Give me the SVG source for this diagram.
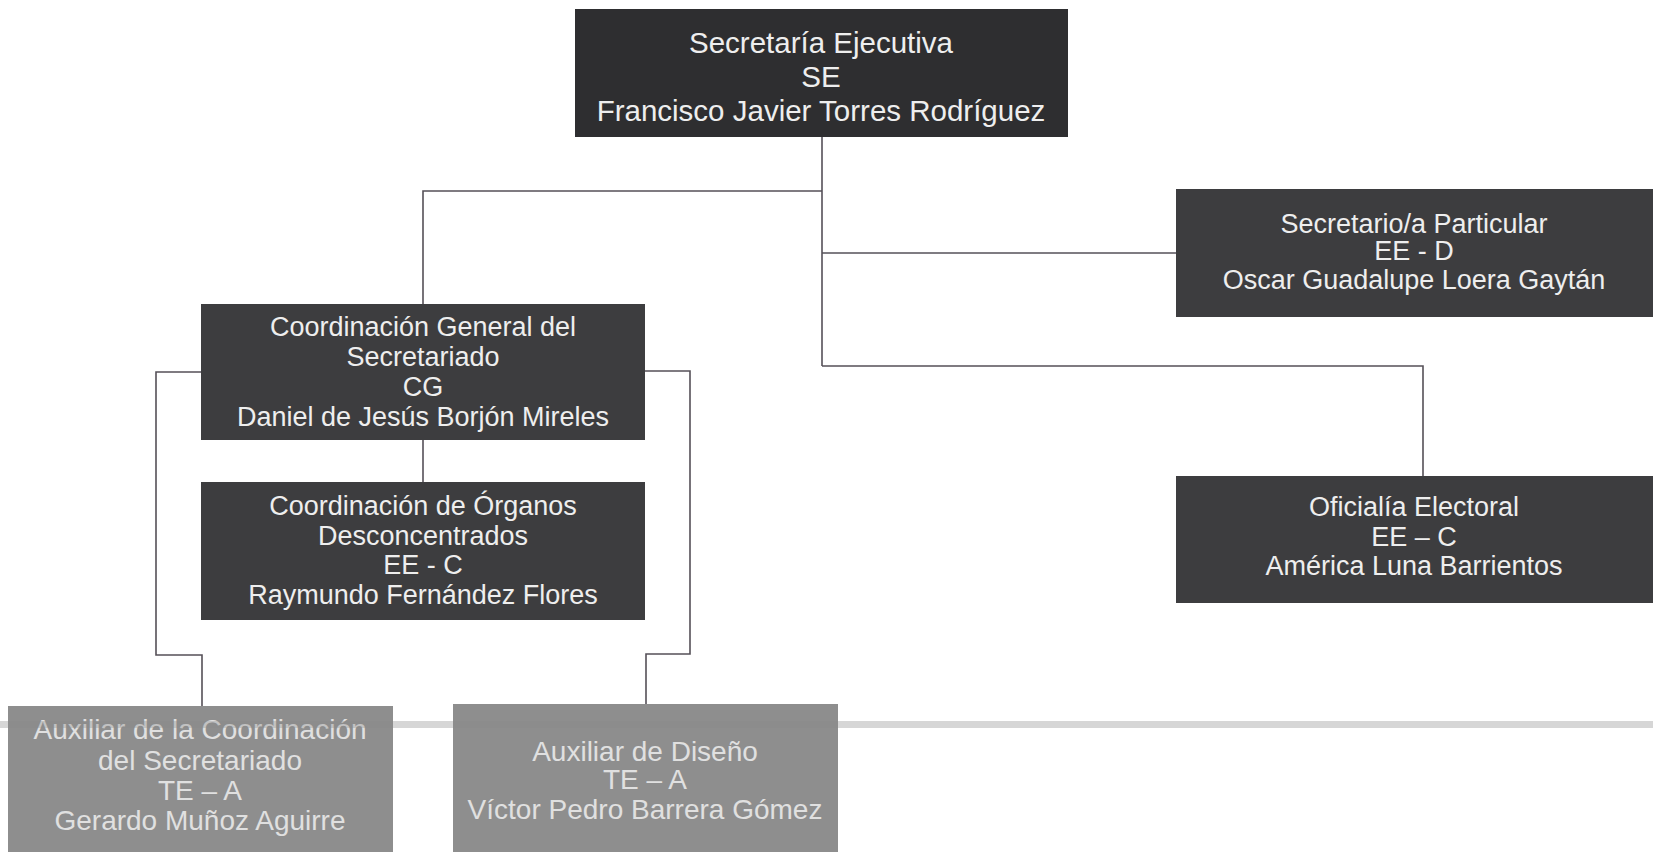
<svg xmlns="http://www.w3.org/2000/svg" width="1653" height="852" viewBox="0 0 1653 852">
<style>
.dk{fill:#3d3d3f}
.se{fill:#2e2e30}
.lt{fill:#8e8e8e}
text{font-family:"Liberation Sans",Arial,sans-serif;text-anchor:middle}
.t{fill:#eeeeee;font-size:27px}
.tse{fill:#eeeeee;font-size:29.5px}
.tl{fill:#e0e0e0;font-size:28px}
.c{fill:none;stroke:#555058;stroke-width:1.6}
</style>
<rect width="1653" height="852" fill="#ffffff"/>
<g id="connectors">
<path class="c" d="M822 137 V366"/>
<path class="c" d="M822 191 H423 V304"/>
<path class="c" d="M822 253 H1176"/>
<path class="c" d="M822 366 H1423 V476"/>
<path class="c" d="M423 440 V482"/>
<path class="c" d="M201 372 H156 V655 H202 V706"/>
<path class="c" d="M645 371 H690 V654 H646 V704"/>
</g>
<g id="se">
<rect class="se" x="575" y="9" width="493" height="128"/>
<text class="tse" x="821" y="53">Secretaría Ejecutiva</text>
<text class="tse" x="821" y="87">SE</text>
<text class="tse" x="821" y="121">Francisco Javier Torres Rodríguez</text>
</g>
<g id="sp">
<rect class="dk" x="1176" y="189" width="477" height="128"/>
<text class="t" x="1414" y="233">Secretario/a Particular</text>
<text class="t" x="1414" y="260">EE - D</text>
<text class="t" x="1414" y="289">Oscar Guadalupe Loera Gaytán</text>
</g>
<g id="oe">
<rect class="dk" x="1176" y="476" width="477" height="127"/>
<text class="t" x="1414" y="516">Oficialía Electoral</text>
<text class="t" x="1414" y="546">EE – C</text>
<text class="t" x="1414" y="575">América Luna Barrientos</text>
</g>
<g id="cg">
<rect class="dk" x="201" y="304" width="444" height="136"/>
<text class="t" x="423" y="336">Coordinación General del</text>
<text class="t" x="423" y="366">Secretariado</text>
<text class="t" x="423" y="396">CG</text>
<text class="t" x="423" y="426">Daniel de Jesús Borjón Mireles</text>
</g>
<g id="cdo">
<rect class="dk" x="201" y="482" width="444" height="138"/>
<text class="t" x="423" y="515">Coordinación de Órganos</text>
<text class="t" x="423" y="545">Desconcentrados</text>
<text class="t" x="423" y="574">EE - C</text>
<text class="t" x="423" y="604">Raymundo Fernández Flores</text>
</g>
<g id="aux1">
<rect class="lt" x="8" y="706" width="385" height="150"/>
<text class="tl" x="200" y="739">Auxiliar de la Coordinación</text>
<text class="tl" x="200" y="770">del Secretariado</text>
<text class="tl" x="200" y="800">TE – A</text>
<text class="tl" x="200" y="830">Gerardo Muñoz Aguirre</text>
</g>
<g id="aux2">
<rect class="lt" x="453" y="704" width="385" height="152"/>
<text class="tl" x="645" y="761">Auxiliar de Diseño</text>
<text class="tl" x="645" y="789">TE – A</text>
<text class="tl" x="645" y="819">Víctor Pedro Barrera Gómez</text>
</g>
<rect x="0" y="721" width="1653" height="7" fill="#8a8a8a" opacity="0.35"/>
</svg>
